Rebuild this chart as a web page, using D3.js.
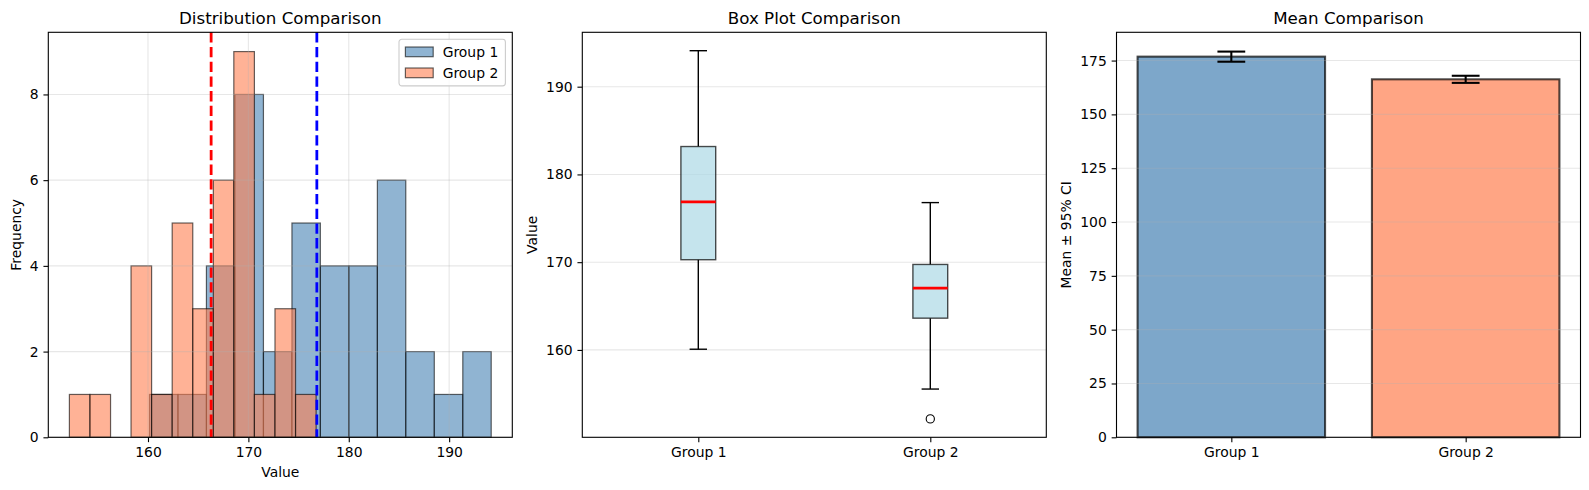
<!DOCTYPE html>
<html lang="en">
<head>
<meta charset="UTF-8">
<title>Group Comparison</title>
<script src="https://d3js.org/d3.v7.min.js"></script>
<style>
  html, body { margin: 0; padding: 0; background: #fff; }
  svg { display: block; font-family: "DejaVu Sans", sans-serif; }
  .tick text { font-size: 13.9px; fill: #000; }
  .tick line { stroke: #000; stroke-width: 1.1px; }
  .grid line { stroke: #b0b0b0; stroke-opacity: 0.3; stroke-width: 1.1px; }
  .title { font-size: 16.7px; text-anchor: middle; }
  .axis-label { font-size: 13.9px; text-anchor: middle; }
</style>
</head>
<body>
<svg id="chart" width="1589" height="490"></svg>
<script>
// ---- values ----
const groupNames = ["Group 1", "Group 2"];

// histogram bins: edges and counts per group
const g1Edges = [160.15, 162.99, 165.82, 168.66, 171.50, 174.34, 177.17, 180.01, 182.85, 185.68, 188.52, 191.36, 194.19];
const g1Counts = [1, 1, 4, 8, 2, 5, 4, 4, 6, 2, 1, 2];
const g2Edges = [152.17, 154.22, 156.27, 158.31, 160.36, 162.41, 164.46, 166.51, 168.55, 170.60, 172.65, 174.70, 176.75];
const g2Counts = [1, 1, 0, 4, 1, 5, 3, 6, 9, 1, 3, 1];

// means and 95% CI half widths
const groupMeans = [176.82, 166.29];
const groupCI = [2.35, 1.65];

// box plot summaries
const boxLow = [160.08, 155.54];
const boxQ1 = [170.28, 163.62];
const boxMedian = [176.87, 167.04];
const boxQ3 = [183.18, 169.74];
const boxHigh = [194.10, 176.79];
const boxOutliers = [[], [152.14]];

// tick values
const histTicksX = [160, 170, 180, 190];
const histTicksY = [0, 2, 4, 6, 8];
const boxTicksY = [160, 170, 180, 190];
const barTicksY = [0, 25, 50, 75, 100, 125, 150, 175];

const histColors = ["steelblue", "coral"];
const meanLineColors = ["blue", "red"];

// ---- layout ----
const svg = d3.select("#chart");
const panelW = 464, plotTop = 32.3, plotBottom = 437.3, panelH = plotBottom - plotTop;
const lefts = [48.3, 582.3, 1116.5];
const tickLen = 4.86;

function pad(lo, hi) { const m = (hi - lo) * 0.05; return [lo - m, hi + m]; }

function axes(i) {
  return svg.append("g").attr("transform", `translate(${lefts[i]},${plotTop})`);
}

function drawAxes(g, x, y, xTicks, xFormat, yTicks, title, xLabel, yLabel) {
  const ax = g.append("g").attr("transform", `translate(0,${panelH})`)
    .call(d3.axisBottom(x).tickValues(xTicks).tickFormat(xFormat).tickSize(tickLen).tickPadding(tickLen).tickSizeOuter(0));
  ax.select(".domain").remove();
  const ay = g.append("g")
    .call(d3.axisLeft(y).tickValues(yTicks).tickFormat(d3.format("d")).tickSize(tickLen).tickPadding(tickLen).tickSizeOuter(0));
  ay.select(".domain").remove();
  ax.attr("font-family", null).attr("font-size", null);
  ay.attr("font-family", null).attr("font-size", null);

  g.append("rect").attr("width", panelW).attr("height", panelH)
    .attr("fill", "none").attr("stroke", "#000").attr("stroke-width", 1.1);

  g.append("text").attr("class", "title").attr("x", panelW / 2).attr("y", -8.3).text(title);
  if (xLabel) {
    g.append("text").attr("class", "axis-label").attr("x", panelW / 2).attr("y", panelH + 39.7).text(xLabel);
  }
  let maxW = 0;
  ay.selectAll("text").each(function () { maxW = Math.max(maxW, this.getComputedTextLength()); });
  const lx = -(2 * tickLen + maxW + 5.56 + 3.3);
  g.append("text").attr("class", "axis-label")
    .attr("transform", `translate(${lx},${panelH / 2}) rotate(-90)`).text(yLabel);
}

function hGrid(g, y, ticks) {
  g.append("g").attr("class", "grid").selectAll("line").data(ticks).join("line")
    .attr("x1", 0).attr("x2", panelW).attr("y1", d => y(d)).attr("y2", d => y(d));
}

// ---- panel 1: histogram ----
{
  const g = axes(0);
  const allEdges = g1Edges.concat(g2Edges);
  const x = d3.scaleLinear().domain(pad(d3.min(allEdges), d3.max(allEdges))).range([0, panelW]);
  const y = d3.scaleLinear().domain([0, d3.max(g1Counts.concat(g2Counts)) * 1.05]).range([panelH, 0]);

  [[g1Edges, g1Counts], [g2Edges, g2Counts]].forEach(([edges, counts], k) => {
    const bins = counts.map((c, i) => ({ x0: edges[i], x1: edges[i + 1], c })).filter(b => b.c > 0);
    g.append("g").selectAll("rect").data(bins).join("rect")
      .attr("x", d => x(d.x0)).attr("width", d => x(d.x1) - x(d.x0))
      .attr("y", d => y(d.c)).attr("height", d => y(0) - y(d.c))
      .attr("fill", histColors[k]).attr("fill-opacity", 0.6)
      .attr("stroke", "#000").attr("stroke-opacity", 0.6).attr("stroke-width", 1.2);
  });

  hGrid(g, y, histTicksY);
  g.append("g").attr("class", "grid").selectAll("line").data(histTicksX).join("line")
    .attr("x1", d => x(d)).attr("x2", d => x(d)).attr("y1", 0).attr("y2", panelH);

  g.append("g").selectAll("line").data(groupMeans).join("line")
    .attr("x1", d => x(d)).attr("x2", d => x(d)).attr("y1", 0).attr("y2", panelH)
    .attr("stroke", (d, i) => meanLineColors[i]).attr("stroke-width", 2.78)
    .attr("stroke-dasharray", "10.3,4.4");

  drawAxes(g, x, y, histTicksX, d3.format("d"), histTicksY, "Distribution Comparison", "Value", "Frequency");

  // legend
  const lg = g.append("g").attr("transform", `translate(${panelW - 6.9 - 106.4},6.9)`);
  lg.append("rect").attr("width", 106.4).attr("height", 46.7).attr("rx", 2.8)
    .attr("fill", "#fff").attr("fill-opacity", 0.8).attr("stroke", "#ccc").attr("stroke-width", 1.1);
  groupNames.forEach((name, k) => {
    const row = lg.append("g").attr("transform", `translate(6.4,${12.7 + k * 21})`);
    row.append("rect").attr("y", -4.9).attr("width", 27.8).attr("height", 9.7)
      .attr("fill", histColors[k]).attr("fill-opacity", 0.6)
      .attr("stroke", "#000").attr("stroke-opacity", 0.6).attr("stroke-width", 1.2);
    row.append("text").attr("x", 37.3).attr("dy", "0.36em").attr("font-size", "13.9px").text(name);
  });
}

// ---- panel 2: box plot ----
{
  const g = axes(1);
  const x = d3.scaleLinear().domain([0.5, 2.5]).range([0, panelW]);
  const allVals = boxLow.concat(boxHigh, ...boxOutliers);
  const y = d3.scaleLinear().domain(pad(d3.min(allVals), d3.max(allVals))).range([panelH, 0]);

  hGrid(g, y, boxTicksY);

  const bw = x(0.65) - x(0.5);
  groupNames.forEach((name, i) => {
    const cx = x(i + 1);
    const b = g.append("g");
    [[boxLow[i], boxQ1[i]], [boxQ3[i], boxHigh[i]]].forEach(([a, c]) => {
      b.append("line").attr("x1", cx).attr("x2", cx).attr("y1", y(a)).attr("y2", y(c))
        .attr("stroke", "#000").attr("stroke-width", 1.39);
    });
    [boxLow[i], boxHigh[i]].forEach(v => {
      b.append("line").attr("x1", cx - bw / 4).attr("x2", cx + bw / 4).attr("y1", y(v)).attr("y2", y(v))
        .attr("stroke", "#000").attr("stroke-width", 1.39);
    });
    b.append("rect").attr("x", cx - bw / 2).attr("width", bw)
      .attr("y", y(boxQ3[i])).attr("height", y(boxQ1[i]) - y(boxQ3[i]))
      .attr("fill", "lightblue").attr("fill-opacity", 0.7)
      .attr("stroke", "#000").attr("stroke-opacity", 0.7).attr("stroke-width", 1.39);
    b.append("line").attr("x1", cx - bw / 2).attr("x2", cx + bw / 2)
      .attr("y1", y(boxMedian[i])).attr("y2", y(boxMedian[i]))
      .attr("stroke", "red").attr("stroke-width", 2.78);
    b.selectAll("circle").data(boxOutliers[i]).join("circle")
      .attr("cx", cx).attr("cy", d => y(d)).attr("r", 4.1)
      .attr("fill", "none").attr("stroke", "#000").attr("stroke-width", 1.1);
  });

  drawAxes(g, x, y, [1, 2], d => groupNames[d - 1], boxTicksY, "Box Plot Comparison", null, "Value");
}

// ---- panel 3: mean bars ----
{
  const g = axes(2);
  const x = d3.scaleLinear().domain([-0.49, 1.49]).range([0, panelW]);
  const yMax = d3.max(groupMeans.map((m, i) => m + groupCI[i]));
  const y = d3.scaleLinear().domain([0, yMax * 1.05]).range([panelH, 0]);

  g.append("g").selectAll("rect").data(groupMeans).join("rect")
    .attr("x", (d, i) => x(i - 0.4)).attr("width", x(0.4) - x(-0.4))
    .attr("y", d => y(d)).attr("height", d => y(0) - y(d))
    .attr("fill", (d, i) => histColors[i]).attr("fill-opacity", 0.7)
    .attr("stroke", "#000").attr("stroke-opacity", 0.7).attr("stroke-width", 2.08);

  hGrid(g, y, barTicksY);

  const eb = g.append("g").attr("stroke", "#000").attr("stroke-width", 2.08);
  groupMeans.forEach((m, i) => {
    const cx = x(i), lo = y(m - groupCI[i]), hi = y(m + groupCI[i]);
    eb.append("line").attr("x1", cx).attr("x2", cx).attr("y1", lo).attr("y2", hi);
    [lo, hi].forEach(v => eb.append("line").attr("x1", cx - 13.9).attr("x2", cx + 13.9).attr("y1", v).attr("y2", v));
  });

  drawAxes(g, x, y, [0, 1], d => groupNames[d], barTicksY, "Mean Comparison", null, "Mean ± 95% CI");
}
</script>
</body>
</html>
